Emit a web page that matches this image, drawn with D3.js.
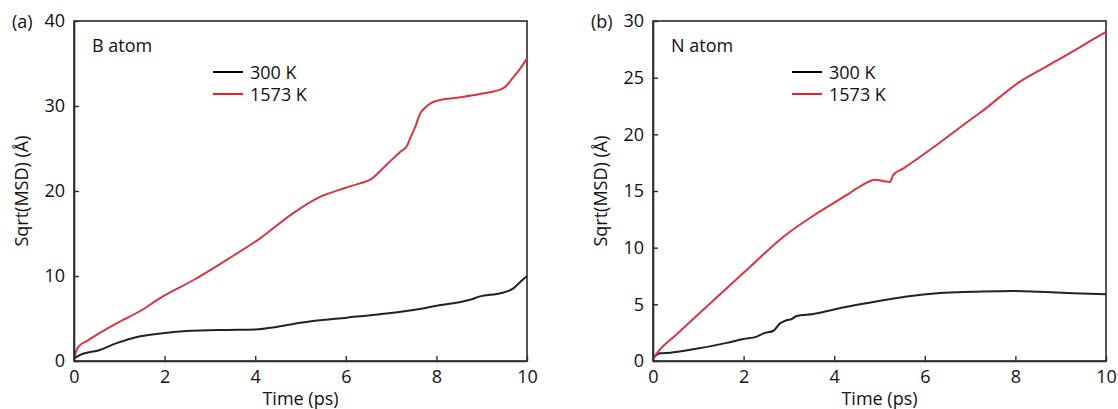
<!DOCTYPE html>
<html>
<head>
<meta charset="utf-8">
<script src="https://cdn.jsdelivr.net/npm/d3@7"></script>
<style>
  html, body { margin: 0; padding: 0; background: #fff; }
  svg { display: block; }
  text { font-family: "Open Sans", "Noto Sans", sans-serif; fill: #111; }
</style>
</head>
<body>
<svg id="chart" width="1118" height="409"></svg>
<script>
// Time axis ticks (ps)
const timeTicks = [0, 2, 4, 6, 8, 10];
const boronTicks = [0, 10, 20, 30, 40];
const nitrogenTicks = [0, 5, 10, 15, 20, 25, 30];

// B atom, 300 K
const b300Time = [0, 0.13, 0.57, 0.94, 1.46, 2.0, 2.4, 2.78, 3.4, 4.0, 4.47, 5.0, 5.28, 6.02, 6.75, 7.49, 8.01, 8.74, 8.96, 9.44, 9.7, 9.85, 10];
const b300Value = [0.3, 0.7, 1.3, 2.1, 2.9, 3.3, 3.5, 3.6, 3.65, 3.7, 4.0, 4.5, 4.7, 5.1, 5.5, 6.0, 6.5, 7.2, 7.6, 8.0, 8.55, 9.3, 10.0];

// B atom, 1573 K
const b1573Time = [0, 0.05, 0.1, 0.3, 0.57, 1.0, 1.5, 1.9, 2.63, 3.37, 4.1, 4.84, 5.43, 5.95, 6.31, 6.53, 6.9, 7.2, 7.34, 7.42, 7.53, 7.64, 7.75, 7.9, 8.08, 8.5, 8.96, 9.48, 9.7, 9.85, 10];
const b1573Value = [0.3, 1.2, 1.7, 2.4, 3.3, 4.6, 6.0, 7.4, 9.5, 11.9, 14.4, 17.4, 19.3, 20.3, 20.9, 21.3, 23.1, 24.6, 25.2, 26.2, 27.5, 29.1, 29.8, 30.4, 30.7, 31.0, 31.4, 32.1, 33.4, 34.4, 35.6];

// N atom, 300 K
const n300Time = [0, 0.15, 0.38, 0.89, 1.63, 2.0, 2.29, 2.44, 2.66, 2.8, 2.95, 3.06, 3.17, 3.54, 4.0, 4.57, 4.86, 5.6, 6.34, 7.07, 7.95, 8.54, 9.28, 10];
const n300Value = [0.23, 0.68, 0.73, 1.03, 1.6, 1.94, 2.15, 2.44, 2.67, 3.3, 3.6, 3.7, 3.97, 4.15, 4.55, 5.0, 5.2, 5.7, 6.0, 6.1, 6.18, 6.1, 5.97, 5.88];

// N atom, 1573 K
const n1573Time = [0, 0.15, 0.5, 1.0, 1.5, 2.14, 2.88, 3.61, 4.28, 4.57, 4.9, 5.05, 5.23, 5.3, 5.53, 6.26, 7.0, 7.22, 8.1, 8.69, 9.43, 9.72, 10];
const n1573Value = [0.23, 1.0, 2.28, 4.12, 5.95, 8.3, 10.97, 13.0, 14.65, 15.4, 16.0, 15.9, 15.8, 16.4, 17.0, 19.06, 21.27, 21.9, 24.65, 26.0, 27.7, 28.4, 29.05];

const seriesNames = ["300 K", "1573 K"];
const lineColors = ["#222222", "#dd3340"];
const legendColors = ["#000000", "#ee1c24"];

const svg = d3.select("#chart");
const FONT = 18;

function drawPanel(opt) {
  const g = svg.append("g");
  const x = d3.scaleLinear().domain([0, 10]).range([opt.left, opt.right]);
  const y = d3.scaleLinear().domain([0, opt.yMax]).range([opt.bottom, opt.top]);

  // frame
  g.append("rect")
    .attr("x", opt.left).attr("y", opt.top)
    .attr("width", opt.right - opt.left).attr("height", opt.bottom - opt.top)
    .attr("fill", "none").attr("stroke", "#2b2b2b").attr("stroke-width", 1.6);

  // data lines
  const line = d3.line().x(d => x(d[0])).y(d => y(d[1])).curve(d3.curveMonotoneX);
  opt.series.forEach((s, i) => {
    g.append("path")
      .datum(d3.zip(s.t, s.v))
      .attr("d", line)
      .attr("fill", "none")
      .attr("stroke", lineColors[i])
      .attr("stroke-width", 2)
      .attr("stroke-linejoin", "round");
  });

  // axes with inward ticks
  const xAxis = d3.axisBottom(x).tickValues(timeTicks).tickSizeInner(-5).tickSizeOuter(0).tickPadding(9);
  const yAxis = d3.axisLeft(y).tickValues(opt.yTicks).tickSizeInner(-5).tickSizeOuter(0).tickPadding(9);
  const gx = g.append("g").attr("transform", `translate(0,${opt.bottom})`).call(xAxis);
  const gy = g.append("g").attr("transform", `translate(${opt.left},0)`).call(yAxis);
  [gx, gy].forEach(a => {
    a.select(".domain").attr("stroke", "#2b2b2b").attr("stroke-width", 1.6);
    a.selectAll(".tick line").attr("stroke", "#2b2b2b").attr("stroke-width", 1.4);
    a.selectAll(".tick text").attr("font-size", FONT).attr("font-family", null).attr("fill", "#111");
  });

  // axis titles
  g.append("text")
    .attr("x", (opt.left + opt.right) / 2).attr("y", 405)
    .attr("text-anchor", "middle").attr("font-size", FONT)
    .text("Time (ps)");
  g.append("text")
    .attr("transform", `translate(${opt.left - 46},${(opt.top + opt.bottom) / 2}) rotate(-90)`)
    .attr("text-anchor", "middle").attr("font-size", FONT)
    .text("Sqrt(MSD) (Å)");

  // panel letter
  g.append("text")
    .attr("x", opt.left - 62).attr("y", 28)
    .attr("font-size", FONT)
    .text(opt.letter);

  // atom label
  g.append("text")
    .attr("x", opt.left + 18).attr("y", 52)
    .attr("font-size", FONT)
    .text(opt.title);

  // legend
  const lx = opt.left + 139;
  seriesNames.forEach((name, i) => {
    const ly = 72 + i * 22;
    g.append("line")
      .attr("x1", lx).attr("x2", lx + 30)
      .attr("y1", ly).attr("y2", ly)
      .attr("stroke", legendColors[i]).attr("stroke-width", 2);
    g.append("text")
      .attr("x", lx + 37).attr("y", ly + 6.5)
      .attr("font-size", FONT)
      .text(name);
  });
}

drawPanel({
  left: 74, right: 527, top: 21, bottom: 361,
  yMax: 40, yTicks: boronTicks, letter: "(a)", title: "B atom",
  series: [{t: b300Time, v: b300Value}, {t: b1573Time, v: b1573Value}]
});

drawPanel({
  left: 653, right: 1106, top: 21, bottom: 361,
  yMax: 30, yTicks: nitrogenTicks, letter: "(b)", title: "N atom",
  series: [{t: n300Time, v: n300Value}, {t: n1573Time, v: n1573Value}]
});
</script>
</body>
</html>
